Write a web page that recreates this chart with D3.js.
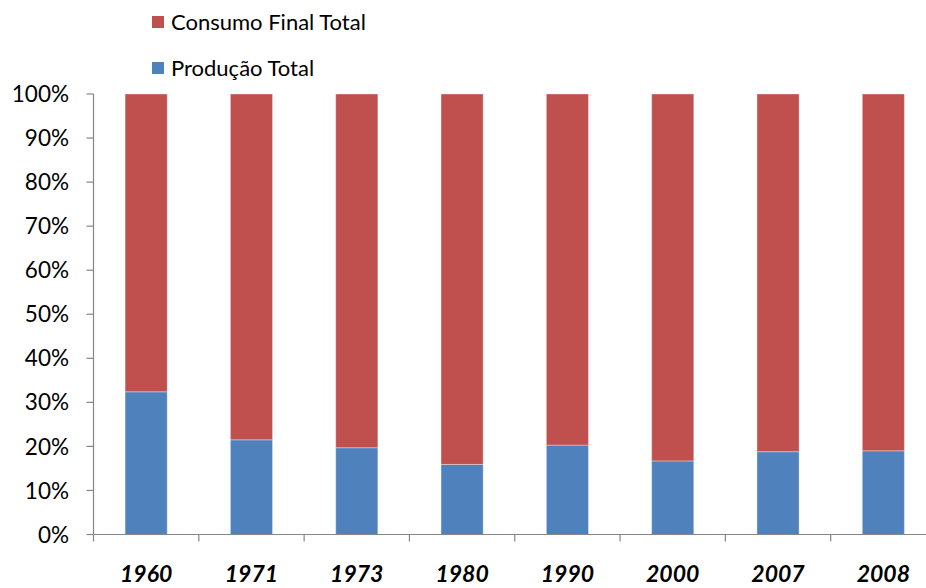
<!DOCTYPE html>
<html>
<head>
<meta charset="utf-8">
<script src="https://cdn.jsdelivr.net/npm/d3@7/dist/d3.min.js"></script>
<style>
  html, body { margin: 0; padding: 0; background: #ffffff; }
  svg { display: block; }
</style>
</head>
<body>
<svg id="chart" width="926" height="588"></svg>
<script>
// ---- data ----
const categories = ["1960", "1971", "1973", "1980", "1990", "2000", "2007", "2008"];
const producaoTotal = [32.4, 21.5, 19.7, 15.9, 20.3, 16.7, 18.8, 19.0];
const consumoFinalTotal = producaoTotal.map(v => 100 - v);
const yTicks = [0, 10, 20, 30, 40, 50, 60, 70, 80, 90, 100];
const seriesNames = ["Produção Total", "Consumo Final Total"];
const seriesColors = ["#4F81BD", "#C0504D"];

// ---- layout ----
const svg = d3.select("#chart");
const plotLeft = 93.5, plotRight = 936, plotTop = 94, plotBottom = 534.5;
const font = "Lato, 'Open Sans', sans-serif";

const x = d3.scaleBand().domain(categories).range([plotLeft, plotRight]).paddingInner(0.6).paddingOuter(0.3);
const xTick = d3.scaleBand().domain(categories).range([plotLeft, plotRight]);
const y = d3.scaleLinear().domain([0, 100]).range([plotBottom, plotTop]);

const rows = categories.map((c, i) => ({ cat: c, "Produção Total": producaoTotal[i], "Consumo Final Total": consumoFinalTotal[i] }));
const stacked = d3.stack().keys(seriesNames)(rows);

// bars
svg.append("g").selectAll("g").data(stacked).join("g")
  .attr("fill", (d, i) => seriesColors[i])
  .selectAll("rect").data(d => d).join("rect")
  .attr("x", d => x(d.data.cat))
  .attr("width", x.bandwidth())
  .attr("y", d => y(d[1]))
  .attr("height", d => y(d[0]) - y(d[1]))
  .attr("stroke", "rgba(255,255,255,0.35)")
  .attr("stroke-width", 1);

// y axis
const yAxis = svg.append("g");
yAxis.append("line").attr("x1", plotLeft).attr("x2", plotLeft).attr("y1", plotTop).attr("y2", plotBottom)
  .attr("stroke", "#868686").attr("stroke-width", 1.2);
yAxis.selectAll("line.tick").data(yTicks).join("line").attr("class", "tick")
  .attr("x1", plotLeft - 7).attr("x2", plotLeft).attr("y1", d => y(d)).attr("y2", d => y(d))
  .attr("stroke", "#868686").attr("stroke-width", 1.2);
yAxis.selectAll("text").data(yTicks).join("text")
  .attr("x", 69).attr("y", d => y(d)).attr("dy", "0.36em")
  .attr("text-anchor", "end")
  .attr("font-family", font).attr("font-size", 22.5).attr("fill", "#000")
  .text(d => d + "%");

// x axis
const xAxis = svg.append("g");
xAxis.append("line").attr("x1", plotLeft).attr("x2", plotRight).attr("y1", plotBottom).attr("y2", plotBottom)
  .attr("stroke", "#868686").attr("stroke-width", 1.2);
const tickXs = categories.map(c => xTick(c));
xAxis.selectAll("line.tick").data(tickXs).join("line").attr("class", "tick")
  .attr("x1", d => d).attr("x2", d => d).attr("y1", plotBottom).attr("y2", plotBottom + 7)
  .attr("stroke", "#868686").attr("stroke-width", 1.2);
xAxis.selectAll("text").data(categories).join("text")
  .attr("x", d => x(d) + x.bandwidth() / 2).attr("y", 582)
  .attr("text-anchor", "middle")
  .attr("font-family", font).attr("font-size", 23)
  .attr("font-weight", "bold").attr("font-style", "italic").attr("fill", "#000")
  .text(d => d);

// legend
const legendItems = [
  { name: seriesNames[1], color: seriesColors[1], y: 22 },
  { name: seriesNames[0], color: seriesColors[0], y: 68 }
];
const lg = svg.append("g").selectAll("g").data(legendItems).join("g");
lg.append("rect").attr("x", 152).attr("y", d => d.y - 6).attr("width", 12).attr("height", 12)
  .attr("fill", d => d.color);
lg.append("text").attr("x", 171).attr("y", d => d.y).attr("dy", "0.36em")
  .attr("font-family", font).attr("font-size", 22).attr("fill", "#000")
  .text(d => d.name);
</script>
</body>
</html>
